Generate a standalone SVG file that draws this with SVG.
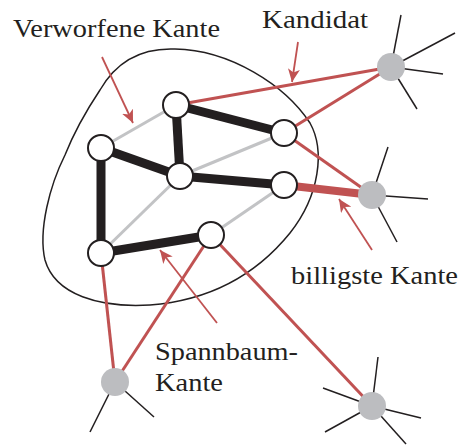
<svg xmlns="http://www.w3.org/2000/svg" width="461" height="445" viewBox="0 0 461 445">
<defs>
<style>
.blob{fill:none;stroke:#231f20;stroke-width:1.5}
.thick{stroke:#231f20;stroke-width:9;stroke-linecap:butt}
.gray{stroke:#c2c3c5;stroke-width:3}
.red{stroke:#c05252;stroke-width:3}
.redthick{stroke:#c05252;stroke-width:8}
.spoke{stroke:#231f20;stroke-width:1.5}
.ptr{stroke:#c05252;stroke-width:1.8;fill:none}
.node{fill:#fff;stroke:#231f20;stroke-width:2}
.ext{fill:#bcbdc0;stroke:none}
.lbl{font-family:'Liberation Serif','Times New Roman',serif;font-size:25px;fill:#231f20}
</style>
<marker id="ah" markerUnits="userSpaceOnUse" markerWidth="14" markerHeight="12" refX="13" refY="6" orient="auto">
<path d="M0,0 L13,6 L0,12 L3.5,6 Z" fill="#c05252"/>
</marker>
</defs>
<path class="blob" d="M100,90 C120,55 150,48 175,49 C230,50 285,85 310,123 C325,150 320,195 290,233 C260,270 215,300 150,305 C100,308 55,295 45,260 C38,230 50,185 65,155 C75,130 88,108 100,90 Z"/>
<g id="connectors">
<line class="gray" x1="176" y1="105" x2="101" y2="148"/>
<line class="gray" x1="180" y1="176" x2="284" y2="133"/>
<line class="gray" x1="180" y1="176" x2="101" y2="253"/>
<line class="gray" x1="284" y1="185" x2="211" y2="235"/>
<line class="red" x1="176" y1="105" x2="391" y2="67"/>
<line class="red" x1="284" y1="133" x2="391" y2="67"/>
<line class="red" x1="284" y1="133" x2="372" y2="195"/>
<line class="redthick" x1="284" y1="185" x2="372" y2="195"/>
<line class="red" x1="101" y1="253" x2="115" y2="382"/>
<line class="red" x1="211" y1="235" x2="115" y2="382"/>
<line class="red" x1="211" y1="235" x2="372" y2="406"/>
<line class="thick" x1="176" y1="105" x2="284" y2="133"/>
<line class="thick" x1="176" y1="105" x2="180" y2="176"/>
<line class="thick" x1="101" y1="148" x2="180" y2="176"/>
<line class="thick" x1="180" y1="176" x2="284" y2="185"/>
<line class="thick" x1="101" y1="148" x2="101" y2="253"/>
<line class="thick" x1="101" y1="253" x2="211" y2="235"/>
<line class="spoke" x1="391" y1="67" x2="401" y2="15"/>
<line class="spoke" x1="391" y1="67" x2="455" y2="33"/>
<line class="spoke" x1="391" y1="67" x2="443" y2="74"/>
<line class="spoke" x1="391" y1="67" x2="417" y2="109"/>
<line class="spoke" x1="372" y1="195" x2="388" y2="147"/>
<line class="spoke" x1="372" y1="195" x2="428" y2="199"/>
<line class="spoke" x1="372" y1="195" x2="397" y2="242"/>
<line class="spoke" x1="115" y1="382" x2="90" y2="432"/>
<line class="spoke" x1="115" y1="382" x2="154" y2="417"/>
<line class="spoke" x1="372" y1="406" x2="378" y2="357"/>
<line class="spoke" x1="372" y1="406" x2="323" y2="388"/>
<line class="spoke" x1="372" y1="406" x2="325" y2="432"/>
<line class="spoke" x1="372" y1="406" x2="421" y2="418"/>
<line class="spoke" x1="372" y1="406" x2="406" y2="444"/>
<line class="ptr" x1="102" y1="57" x2="133" y2="123" marker-end="url(#ah)"/>
<line class="ptr" x1="298" y1="42" x2="292" y2="82" marker-end="url(#ah)"/>
<line class="ptr" x1="372" y1="250" x2="339" y2="199" marker-end="url(#ah)"/>
<line class="ptr" x1="217" y1="323" x2="160" y2="250" marker-end="url(#ah)"/>
</g>
<g id="nA"><circle class="node" cx="176" cy="105" r="13"/></g>
<g id="nB"><circle class="node" cx="101" cy="148" r="13"/></g>
<g id="nC"><circle class="node" cx="180" cy="176" r="13"/></g>
<g id="nD"><circle class="node" cx="284" cy="133" r="13"/></g>
<g id="nE"><circle class="node" cx="284" cy="185" r="13"/></g>
<g id="nF"><circle class="node" cx="101" cy="253" r="13"/></g>
<g id="nG"><circle class="node" cx="211" cy="235" r="13"/></g>
<g id="p1"><circle class="ext" cx="391" cy="67" r="14"/></g>
<g id="p2"><circle class="ext" cx="372" cy="195" r="14"/></g>
<g id="p3"><circle class="ext" cx="115" cy="382" r="14"/></g>
<g id="p4"><circle class="ext" cx="372" cy="406" r="14"/></g>
<g id="labels">
<text class="lbl" x="13" y="37" textLength="207" lengthAdjust="spacingAndGlyphs">Verworfene Kante</text>
<text class="lbl" x="262" y="28" textLength="106" lengthAdjust="spacingAndGlyphs">Kandidat</text>
<text class="lbl" x="291" y="284" textLength="167" lengthAdjust="spacingAndGlyphs">billigste Kante</text>
<text class="lbl" x="155" y="360" textLength="143" lengthAdjust="spacingAndGlyphs">Spannbaum-</text>
<text class="lbl" x="155" y="391" textLength="68" lengthAdjust="spacingAndGlyphs">Kante</text>
</g>
</svg>
